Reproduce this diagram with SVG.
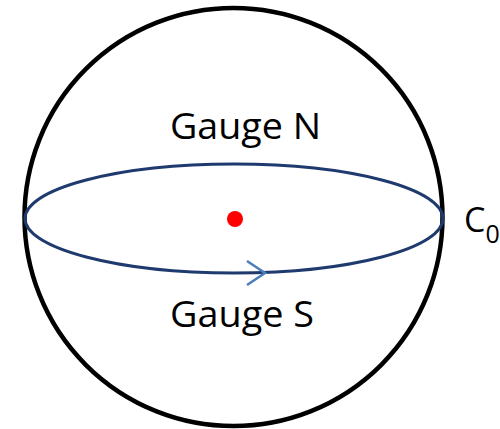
<svg xmlns="http://www.w3.org/2000/svg" width="500" height="429" viewBox="0 0 500 429">
<style>
text{font-family:"Open Sans","Liberation Sans",sans-serif;fill:#000}
.lbl{font-size:36px}
</style>
<rect width="500" height="429" fill="#fff"/>
<g id="sphere"><circle cx="233.5" cy="217" r="209" fill="none" stroke="#000" stroke-width="4.5"/></g>
<g id="equator"><ellipse cx="234" cy="218.5" rx="209" ry="54.5" fill="none" stroke="#1f3a6e" stroke-width="3"/></g>
<g id="connectors"><polyline points="247,261 265,273 247,285" fill="none" stroke="#4a7ebb" stroke-width="2.5"/></g>
<g id="center"><circle cx="235" cy="219" r="8" fill="#ff0000"/></g>
<g id="gaugeN"><text class="lbl" x="170" y="139" textLength="151" lengthAdjust="spacingAndGlyphs">Gauge N</text></g>
<g id="gaugeS"><text class="lbl" x="170" y="327" textLength="144" lengthAdjust="spacingAndGlyphs">Gauge S</text></g>
<g id="c0"><text x="464" y="232" font-size="34">C<tspan font-size="25" dy="11">0</tspan></text></g>
</svg>
